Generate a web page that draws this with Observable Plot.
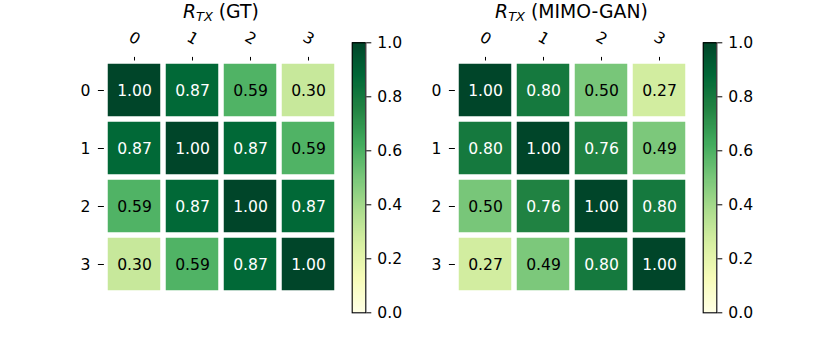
<!DOCTYPE html>
<html>
<head>
<meta charset="utf-8">
<script src="https://cdn.jsdelivr.net/npm/d3@7"></script>
<script src="https://cdn.jsdelivr.net/npm/@observablehq/plot@0.6"></script>
<style>
  html, body { margin: 0; padding: 0; background: white; }
  #root { position: relative; width: 830px; height: 356px; overflow: hidden; font-family: "DejaVu Sans", sans-serif; }
  .panel { position: absolute; top: 0; }
  .panel svg { overflow: visible; }
  .title { position: absolute; top: 0.5px; text-align: center; font-size: 18.8px; line-height: 22px; color: black; white-space: nowrap; }
  .title sub { font-size: 13px; vertical-align: -3px; line-height: 0; }
</style>
</head>
<body>
<div id="root"></div>
<script>
// ---- data ----
const rowLabels = ["0", "1", "2", "3"];
const colLabels = ["0", "1", "2", "3"];
const gtValues = [
  [1.00, 0.87, 0.59, 0.30],
  [0.87, 1.00, 0.87, 0.59],
  [0.59, 0.87, 1.00, 0.87],
  [0.30, 0.59, 0.87, 1.00]
];
const ganValues = [
  [1.00, 0.80, 0.50, 0.27],
  [0.80, 1.00, 0.76, 0.49],
  [0.50, 0.76, 1.00, 0.80],
  [0.27, 0.49, 0.80, 1.00]
];
const titleSuffixes = ["(GT)", "(MIMO-GAN)"];
const colorbarTicks = [0, 0.2, 0.4, 0.6, 0.8, 1.0];
const colorbarTickLabels = ["0.0", "0.2", "0.4", "0.6", "0.8", "1.0"];

// matplotlib YlGn colormap stops
const ylgnStops = ["#ffffe5", "#f7fcb9", "#d9f0a3", "#addd8e", "#78c679", "#41ab5d", "#238443", "#006837", "#004529"];
const cmap = d3.scaleLinear()
  .domain(ylgnStops.map((_, i) => i / (ylgnStops.length - 1)))
  .range(ylgnStops)
  .interpolate(d3.interpolateRgb)
  .clamp(true);

const FONT = "DejaVu Sans";
const FS = 15.6;

function toTable(values) {
  const out = [];
  values.forEach((row, r) => row.forEach((v, c) => out.push({ r: rowLabels[r], c: colLabels[c], v })));
  return out;
}

function heatmap(values, left) {
  const data = toTable(values);
  const W = 350;
  const gx0 = 103.9 + left, gx1 = 337.8 + left;
  return Plot.plot({
    width: W,
    height: 356,
    marginLeft: gx0 - left,
    marginRight: W - (gx1 - left),
    marginTop: 59.5,
    marginBottom: 356 - 293.8,
    style: { fontFamily: FONT, fontSize: FS + "px", background: "transparent", color: "black" },
    x: { type: "band", domain: colLabels, padding: 0, axis: null },
    y: { type: "band", domain: rowLabels, padding: 0, axis: null },
    marks: [
      Plot.cell(data, { x: "c", y: "r", fill: d => cmap(d.v), inset: 2.75 }),
      Plot.text(data, {
        x: "c", y: "r",
        text: d => d.v.toFixed(2),
        fill: d => (d.v > 0.7 ? "white" : "black"),
        fontSize: FS, fontFamily: FONT
      }),
      Plot.axisX({ anchor: "top", tickSize: 3.6, fill: "none", label: null, stroke: "black" }),
      Plot.text(colLabels, {
        x: d => d, frameAnchor: "top", dy: -21.5,
        text: d => d, rotate: 30, textAnchor: "middle", lineAnchor: "middle",
        fontSize: FS, fontFamily: FONT, fill: "black"
      }),
      Plot.axisY({ anchor: "left", tickSize: 6, tickPadding: 8, label: null, fontSize: FS, stroke: "black", fill: "black" })
    ]
  });
}

function colorbar() {
  const steps = d3.range(256).map(i => ({ y1: i / 256, y2: (i + 1) / 256 }));
  const W = 80;
  return Plot.plot({
    width: W,
    height: 356,
    marginLeft: 11.7,
    marginRight: W - 25.3,
    marginTop: 42.3,
    marginBottom: 356 - 312.3,
    style: { fontFamily: FONT, fontSize: FS + "px", background: "transparent", color: "black" },
    x: { domain: [0, 1], axis: null },
    y: { domain: [0, 1], axis: null },
    marks: [
      Plot.rect(steps, { x1: 0, x2: 1, y1: "y1", y2: "y2", fill: d => cmap((d.y1 + d.y2) / 2), shapeRendering: "crispEdges" }),
      Plot.frame({ stroke: "black", strokeWidth: 1.1 }),
      Plot.axisY({
        anchor: "right", ticks: colorbarTicks,
        tickFormat: (d, i) => colorbarTickLabels[colorbarTicks.indexOf(d)],
        tickSize: 5, tickPadding: 6.5, label: null, fontSize: FS, stroke: "black", fill: "black"
      })
    ]
  });
}

const root = document.getElementById("root");
const panels = [
  { values: gtValues, offset: 0, cbLeft: 340 },
  { values: ganValues, offset: 350.6, cbLeft: 691 }
];
panels.forEach((p, i) => {
  const hm = document.createElement("div");
  hm.className = "panel";
  hm.style.left = p.offset + "px";
  hm.appendChild(heatmap(p.values, 0));
  root.appendChild(hm);

  const cb = document.createElement("div");
  cb.className = "panel";
  cb.style.left = p.cbLeft + "px";
  cb.appendChild(colorbar());
  root.appendChild(cb);

  const t = document.createElement("div");
  t.className = "title";
  t.style.left = (p.offset + 103.9) + "px";
  t.style.width = (337.8 - 103.9) + "px";
  t.innerHTML = "<i>R</i><sub><i>TX</i></sub> " + titleSuffixes[i];
  root.appendChild(t);
});
</script>
</body>
</html>
